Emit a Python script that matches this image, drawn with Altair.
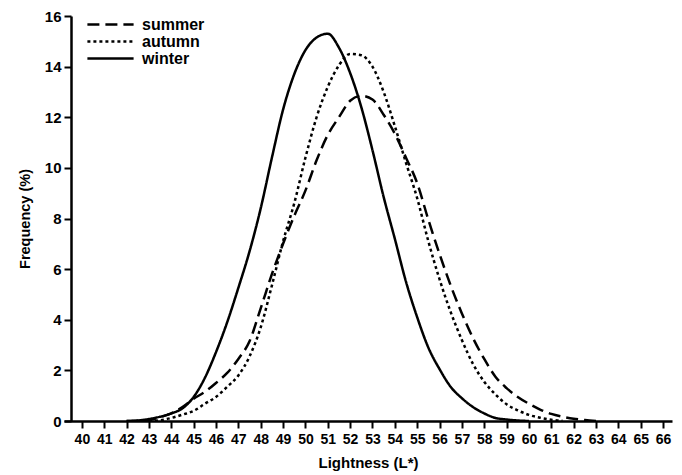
import altair as alt
import pandas as pd

lightness = [42, 42.5, 43, 43.5, 44, 44.5, 45, 45.5, 46, 46.5, 47, 47.5, 48, 48.5, 49, 49.5,
             50, 50.5, 51, 51.5, 52, 52.5, 53, 53.5, 54, 54.5, 55, 55.5, 56, 56.5, 57, 57.5,
             58, 58.5, 59, 59.5, 60, 60.5, 61, 61.5, 62, 62.5, 63]

summer = [0.0, 0.01, 0.04, 0.15, 0.3, 0.55, 0.88, 1.15, 1.5, 1.9, 2.45, 3.15, 4.45, 5.8, 7.0, 8.1,
          9.1, 10.3, 11.3, 12.0, 12.65, 12.85, 12.7, 12.1, 11.35, 10.4, 9.4, 7.95, 6.6, 5.35, 4.25, 3.27,
          2.45, 1.75, 1.3, 0.95, 0.68, 0.45, 0.28, 0.17, 0.09, 0.04, 0.0]

autumn = [None, None, 0.0, 0.03, 0.12, 0.25, 0.4, 0.68, 0.95, 1.35, 1.8, 2.55, 3.7, 5.35, 7.1, 8.6,
          10.4, 12.0, 13.2, 14.05, 14.5, 14.45, 14.0, 13.0, 11.65, 10.2, 8.8, 7.1, 5.6, 4.3, 3.2, 2.25,
          1.55, 1.05, 0.66, 0.42, 0.24, 0.13, 0.05, 0.01, None, None, None]

winter = [0.0, 0.02, 0.08, 0.17, 0.3, 0.5, 0.95, 1.7, 2.72, 3.9, 5.26, 6.7, 8.4, 10.4, 12.3, 13.7,
          14.65, 15.15, 15.3, 14.75, 13.75, 12.4, 10.7, 8.85, 7.2, 5.5, 4.1, 2.9, 2.05, 1.35, 0.9, 0.55,
          0.3, 0.12, 0.06, 0.02, 0.0, None, None, None, None, None, None]

seasons = ["summer", "autumn", "winter"]
x_ticks = list(range(40, 67))
y_ticks = list(range(0, 17, 2))

rows = []
for name, vals in zip(seasons, [summer, autumn, winter]):
    for x, v in zip(lightness, vals):
        if v is not None:
            rows.append({"Lightness": x, "Frequency": v, "season": name})
df = pd.DataFrame(rows)

FONT = "Liberation Sans"

chart = alt.Chart(df).mark_line(
    color="black", strokeWidth=2.5, interpolate="monotone", clip=True
).encode(
    x=alt.X("Lightness:Q",
            scale=alt.Scale(domain=[39.2, 66.4], nice=False, zero=False),
            axis=alt.Axis(title="Lightness (L*)", values=x_ticks, format="d",
                          labelFontSize=14, labelFont=FONT, labelFontWeight="bold",
                          titleFontSize=15, titleFont=FONT, titleFontWeight="bold",
                          titlePadding=9, labelPadding=4,
                          domainColor="black", domainWidth=2.5, tickColor="black",
                          tickWidth=2, tickSize=7, grid=False, labelColor="black",
                          titleColor="black", labelOverlap=False, labelFlush=False)),
    y=alt.Y("Frequency:Q",
            scale=alt.Scale(domain=[0, 16], nice=False),
            axis=alt.Axis(title="Frequency (%)", values=y_ticks, offset=-7,
                          labelFontSize=15, labelFont=FONT, labelFontWeight="bold",
                          titleFontSize=14.5, titleFont=FONT, titleFontWeight="bold",
                          titlePadding=12, labelPadding=3,
                          domainColor="black", domainWidth=2.5, tickColor="black",
                          tickWidth=2, tickSize=7, grid=False, labelColor="black",
                          titleColor="black")),
    strokeDash=alt.StrokeDash("season:N",
            scale=alt.Scale(domain=seasons, range=[[12, 6], [3, 3], [1, 0]]),
            legend=alt.Legend(title=None, orient="none", legendX=38, legendY=0,
                              symbolType="M-3.3,0L3.3,0", symbolSize=196, symbolStrokeWidth=2.5,
                              symbolStrokeColor="black",
                              labelFontSize=16, labelFont=FONT, labelFontWeight="bold",
                              labelColor="black", rowPadding=0, labelOffset=23)),
    detail="season:N",
).properties(
    width=608, height=405,
    autosize=alt.AutoSizeParams(type="none"),
    padding={"left": 56, "top": 8, "right": 2, "bottom": 54},
).configure_view(stroke=None)

chart.save("out.html", embed_options={"renderer": "svg", "actions": False})
